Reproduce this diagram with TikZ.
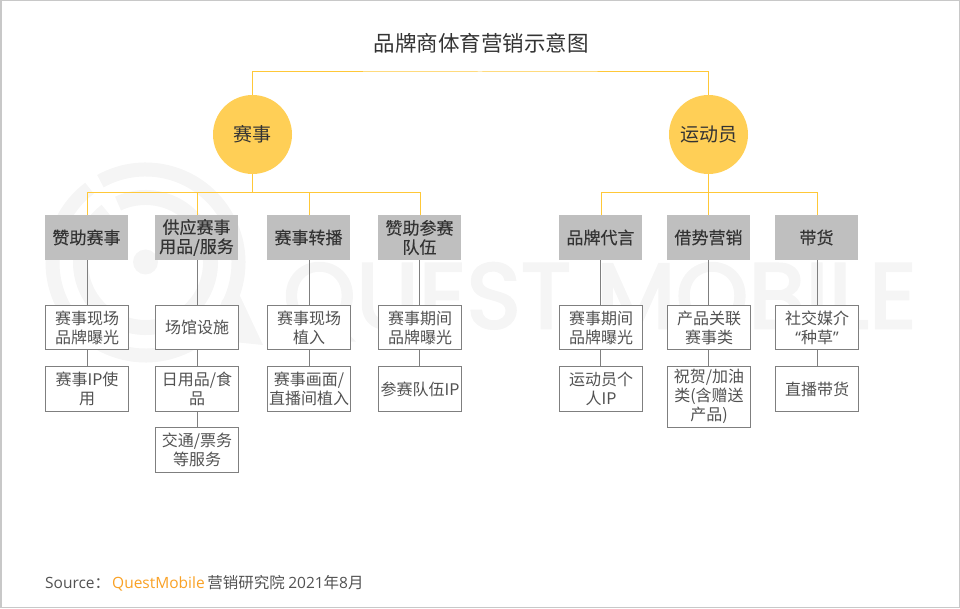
\documentclass[tikz,border=0pt]{standalone}
\usepackage{fontspec}
\setmainfont{Noto Sans CJK SC}
\newfontfamily\headfont[FakeBold=0.25]{Noto Sans CJK SC}
\newfontfamily\latinfont{Open Sans}
\newfontfamily\markfont[FakeBold=3,LetterSpace=0.6]{Poppins}
\definecolor{framegray}{HTML}{C8C8C8}
\definecolor{markgray}{HTML}{F5F5F5}
\definecolor{gold}{HTML}{FFCF56}
\definecolor{goldline}{HTML}{FFC838}
\definecolor{headgray}{HTML}{BFBFBF}
\definecolor{stemgray}{HTML}{7F7F7F}
\definecolor{brandorange}{HTML}{F9A125}
\tikzset{
    rootnode/.style={circle, fill=gold, inner sep=0pt, minimum size=79pt, text=black!80, font=\fontsize{19}{22}\selectfont},
    headbox/.style={fill=headgray, inner sep=0pt, minimum width=83pt, minimum height=45pt, align=center, text=black!80, font=\headfont\fontsize{17}{19.2}\selectfont},
    itembox/.style={draw=stemgray, fill=white, line width=1pt, inner sep=0pt, minimum width=83pt, minimum height=44.5pt, align=center, text=black!68, font=\fontsize{16}{19}\selectfont},
    goldbranch/.style={goldline, line width=1pt},
    stem/.style={stemgray, line width=1pt},
}
\begin{document}
\begin{tikzpicture}[x=1pt,y=1pt]
    \useasboundingbox (0,0) rectangle (960,608);
    % watermark
    \begin{scope}[markgray]
        \draw[line width=14pt] (145.5,345.5) ++(119:93) arc (119:-233:93);
        \draw[line width=15pt] (145.5,345.5) ++(115:65) arc (115:-233:65);
        \fill (145.5,346) circle (12.5);
        \fill (222,308) -- (240,312) -- (263,263) -- (215,268) -- cycle;
        \node[anchor=base west, inner sep=0pt, font=\markfont\fontsize{92}{92}\selectfont] (mark) at (283,280) {QUEST MOBILE};
    \end{scope}
    \draw[framegray, line width=1.5pt] (.75,.75) rectangle (959.25,607.25);
    \node[font=\fontsize{21.5}{24}\selectfont, text=black!80] (title) at (481,565) {品牌商体育营销示意图};
    \node[rootnode] (match) at (252.5,473.5) {赛事};
    \node[rootnode] (athlete) at (708.5,473.5) {运动员};
    \coordinate (topbus) at (480,536);
    \draw[goldbranch] (match.north) |- (topbus) -| (athlete.north);
    % second level
    \foreach \name/\x/\label in {sponsor/86.5/赞助赛事,supply/196.5/{供应赛事\\用品/服务},relay/308.5/赛事转播,team/419.5/{赞助参赛\\队伍},endorse/600.5/品牌代言,borrow/708.5/借势营销,goods/816.5/带货} {
        \node[headbox] (\name) at (\x,370.5) {\label};
    }
    \foreach \name/\s in {sponsor/1,supply/1,relay/1,team/1} {
        \draw[goldbranch] (match.south) -- ++(0,-18) -| ([xshift=\s pt]\name.north);
    }
    \foreach \name/\s in {endorse/1,borrow/0,goods/1} {
        \draw[goldbranch] (athlete.south) -- ++(0,-18) -| ([xshift=\s pt]\name.north);
    }
    % third level
    \foreach \name/\x/\y/\label in {sponsorA/87/280.5/{赛事现场\\品牌曝光},sponsorB/87/219/{赛事IP使\\用},
        supplyA/197/280.5/场馆设施,supplyB/197/219/{日用品/食\\品},supplyC/197/158/{交通/票务\\等服务},
        relayA/309/280.5/{赛事现场\\植入},relayB/309/219/{赛事画面/\\直播间植入},
        teamA/420/280.5/{赛事期间\\品牌曝光},teamB/420/219/参赛队伍IP,
        endorseA/601/280.5/{赛事期间\\品牌曝光},endorseB/601/219/{运动员个\\人IP},
        borrowA/709/280.5/{产品关联\\赛事类},
        goodsA/817/280.5/{社交媒介\\{\latinfont “}种草{\latinfont ”}},goodsB/817/219/直播带货} {
        \node[itembox] (\name) at (\x,\y) {\label};
    }
    \node[itembox, minimum height=61pt] (borrowB) at (709,211.2) {祝贺/加油\\类(含赠送\\产品)};
    \foreach \up/\down/\s in {sponsor/sponsorA/.5,sponsorA/sponsorB/.5,supply/supplyA/.5,supplyA/supplyB/.5,supplyB/supplyC/.5,
        relay/relayA/.5,relayA/relayB/.5,team/teamA/-.5,teamA/teamB/-.5,
        endorse/endorseA/-.5,endorseA/endorseB/-.5,borrow/borrowA/-.5,borrowA/borrowB/-.5,goods/goodsA/.5,goodsA/goodsB/.5} {
        \draw[stem] ([xshift=\s pt]\down.north |- \up.south) -- ([xshift=\s pt]\down.north);
    }
    \node[anchor=west, inner sep=0pt, text=black!68, font=\fontsize{15.5}{19}\selectfont] (source) at (45,25) {{\latinfont\fontsize{15.5}{19}\selectfont Source}：\hspace{2pt}\textcolor{brandorange}{\latinfont QuestMobile}\,营销研究院 {\latinfont 2021}年{\latinfont 8}月};
\end{tikzpicture}
\end{document}
